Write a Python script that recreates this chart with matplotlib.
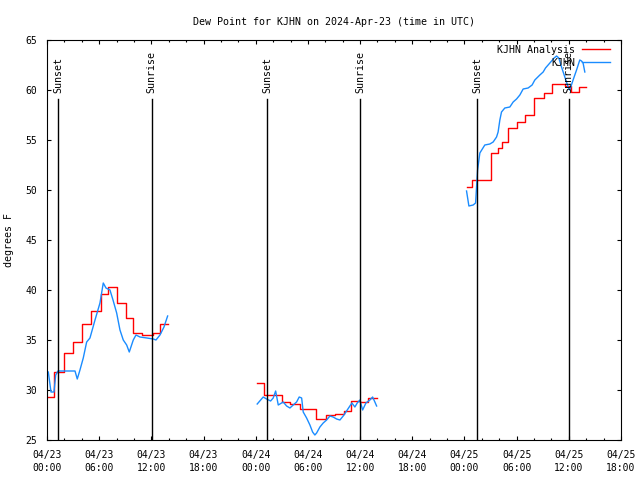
import numpy as np
import matplotlib
matplotlib.use('Agg')
import matplotlib.pyplot as plt

nan = np.nan

# hours since 2024-04-23 00:00 UTC
analysis_hours = [0.1, 0.8, 2.0, 3.0, 4.0, 5.1, 6.2, 7.0, 8.0, 9.1, 9.9, 10.9, 12.2, 13.0, 13.9, nan,
                  24.17, 25.0, 27.0, 27.9, 29.1, 30.9, 32.1, 33.1, 34.14, 35.0, 36.0, 36.9, 37.9, nan,
                  48.24, 48.85, 51.03, 51.9, 52.26, 52.99, 54.02, 55.0, 56.0, 57.16, 58.08, 59.54,
                  60.23, 61.15, 61.92]
analysis_dewpt = [29.3, 31.8, 33.7, 34.8, 36.6, 37.9, 39.6, 40.3, 38.7, 37.2, 35.7, 35.5, 35.7, 36.6, 36.6, nan,
                  30.7, 29.5, 28.8, 28.6, 28.1, 27.1, 27.5, 27.6, 27.9, 28.9, 28.8, 29.2, 29.2, nan,
                  50.3, 51.0, 53.7, 54.2, 54.8, 56.2, 56.8, 57.5, 59.2, 59.7, 60.6, 60.4,
                  59.8, 60.3, 60.3]

obs_hours = [0.15, 0.46, 0.8, 1.0, 1.26, 3.22, 3.48, 3.79, 4.17, 4.56, 4.94, 5.52, 6.09, 6.47, 6.78,
             7.24, 7.59, 8.01, 8.39, 8.77, 9.16, 9.46, 9.92, 10.23, 10.69, 11.49, 12.22, 12.53, 12.99,
             13.45, 13.87, nan,
             24.17, 24.86, 25.25, 25.71, 26.01, 26.29, 26.59, 27.16, 27.55, 27.93, 28.31, 28.7, 29.0,
             29.28, 29.46, 29.85, 30.23, 30.54, 30.8, 31.0, 31.38, 31.76, 32.15, 32.53, 32.9, 33.3,
             33.68, 34.06, 34.37, 34.75, 35.06, 35.4, 35.67, 35.98, 36.29, 36.67, 37.13, 37.44, 37.7,
             37.9, nan,
             48.24, 48.51, 49.0, 49.28, 49.51, 49.77, 50.34, 50.92, 51.3, 51.69, 51.87, 52.07, 52.26,
             52.64, 53.22, 53.6, 53.99, 54.37, 54.75, 55.32, 55.78, 56.09, 56.67, 57.05, 57.32, 57.82,
             58.31, 58.59, 58.85, 59.16, 59.54, 59.92, 60.11, 60.49, 60.89, 61.26, 61.46, 61.64, 61.84]
obs_dewpt = [31.8, 29.8, 29.8, 31.5, 31.9, 31.9, 31.1, 32.0, 33.2, 34.8, 35.2, 37.0, 38.7, 40.7, 40.2,
             40.0, 39.0, 37.7, 36.0, 35.0, 34.5, 33.8, 35.0, 35.5, 35.3, 35.2, 35.1, 35.0, 35.5,
             36.3, 37.4, nan,
             28.6, 29.3, 29.1, 28.9, 29.2, 29.9, 28.5, 28.8, 28.4, 28.2, 28.5, 28.8, 29.3,
             29.2, 27.8, 27.2, 26.5, 25.8, 25.5, 25.7, 26.3, 26.7, 27.0, 27.4, 27.3, 27.1,
             27.0, 27.4, 27.8, 28.3, 28.7, 28.3, 28.7, 29.0, 28.0, 28.7, 29.0, 29.3, 28.8,
             28.4, nan,
             49.9, 48.4, 48.5, 48.7, 52.0, 53.7, 54.5, 54.6, 54.8, 55.3, 55.8, 57.0, 57.8,
             58.2, 58.3, 58.8, 59.1, 59.5, 60.1, 60.2, 60.5, 61.0, 61.5, 61.8, 62.2, 62.7,
             63.2, 63.4, 63.2, 62.3, 61.3, 60.3, 60.0, 61.0, 62.0, 63.0, 62.9, 62.7, 61.8]

sun_hours = [1.3, 12.03, 25.29, 35.98, 49.43, 60.0]
sun_labels = ['Sunset', 'Sunrise', 'Sunset', 'Sunrise', 'Sunset', 'Sunrise']

tick_hours = list(range(0, 67, 6))
tick_labels = ['04/23\n00:00', '04/23\n06:00', '04/23\n12:00', '04/23\n18:00',
               '04/24\n00:00', '04/24\n06:00', '04/24\n12:00', '04/24\n18:00',
               '04/25\n00:00', '04/25\n06:00', '04/25\n12:00', '04/25\n18:00']

mono = 'DejaVu Sans Mono'

fig = plt.figure(figsize=(6.4, 4.8), dpi=100)
ax = fig.add_axes([47 / 640, 40 / 480, 574 / 640, 400 / 480])

ax.plot(analysis_hours, analysis_dewpt, color='#ff0000', lw=1.0, drawstyle='steps-post')
ax.plot(obs_hours, obs_dewpt, color='#1a8cff', lw=1.0)

for h, lab in zip(sun_hours, sun_labels):
    ax.plot([h, h], [0, 0.8525], color='black', lw=1.0, transform=ax.get_xaxis_transform())
    ax.text(h, 0.868, lab, rotation=90, ha='center', va='bottom', fontsize=7.2, family=mono,
            transform=ax.get_xaxis_transform())

ax.set_xlim(0, 66)
ax.set_ylim(25, 65)
ax.set_xticks(tick_hours)
ax.set_xticklabels(tick_labels, linespacing=1.35)
ax.set_xticks(range(0, 67, 2), minor=True)
ax.set_yticks(range(25, 66, 5))
ax.tick_params(which='both', direction='in', top=True, right=True, labelsize=7, width=0.8)
ax.tick_params(which='major', length=3, pad=7)
ax.tick_params(which='minor', length=1.5)
for lab in ax.get_xticklabels() + ax.get_yticklabels():
    lab.set_family(mono)
for sp in ax.spines.values():
    sp.set_linewidth(0.8)

ax.set_title('Dew Point for KJHN on 2024-Apr-23 (time in UTC)', fontsize=7.2, family=mono, pad=11)
ax.set_ylabel('degrees F', fontsize=7.2, family=mono, labelpad=8.5)

# legend, gnuplot style: text right-aligned, sample line on the right
ax.text(0.92, 0.976, 'KJHN Analysis', ha='right', va='center', fontsize=7.2, family=mono,
        transform=ax.transAxes)
ax.plot([0.932, 0.981], [0.977, 0.977], color='#ff0000', lw=1.0, transform=ax.transAxes)
ax.text(0.92, 0.943, 'KJHN', ha='right', va='center', fontsize=7.2, family=mono,
        transform=ax.transAxes)
ax.plot([0.932, 0.981], [0.944, 0.944], color='#1a8cff', lw=1.0, transform=ax.transAxes)

fig.savefig('out.png', dpi=100)
